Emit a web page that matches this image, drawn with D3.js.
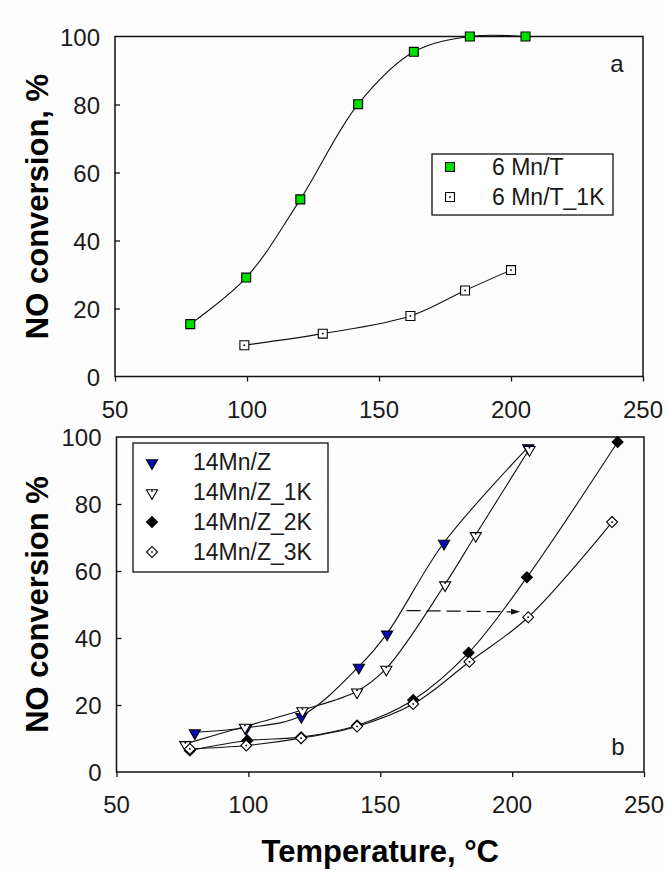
<!DOCTYPE html>
<html>
<head>
<meta charset="utf-8">
<script src="https://cdn.jsdelivr.net/npm/d3@7"></script>
<style>
  body { margin: 0; background: #ffffff; }
  text { font-family: "Liberation Sans", Arial, sans-serif; }
  .tick-label { font-size: 24px; fill: #1a1a1a; }
  .legend-text { font-size: 23px; fill: #1a1a1a; }
  .axis-title { font-size: 31px; font-weight: bold; fill: #000; }
</style>
</head>
<body>
<div id="chart"></div>
<script>
// panel a: 6 Mn/T catalysts
var aFreshT = [78.5, 99.7, 120.2, 142.1, 163.2, 184.4, 205.5];
var aFreshNO = [15.4, 29.1, 52.1, 80.1, 95.5, 100, 100];
var a1KT = [99.0, 128.7, 161.9, 182.6, 200.0];
var a1KNO = [9.2, 12.6, 17.8, 25.3, 31.3];

// panel b: 14Mn/Z catalysts
var bFreshT = [79.7, 99.1, 120.1, 141.9, 152.6, 174.2, 206.1];
var bFreshNO = [11.9, 13.2, 16.8, 31.5, 41.4, 68.5, 97.0];
var b1KT = [76.1, 98.7, 120.5, 141.2, 152.3, 174.6, 186.2, 206.6];
var b1KNO = [8.4, 13.6, 18.5, 24.1, 30.9, 56.1, 70.8, 96.5];
var b2KT = [77.8, 99.6, 120.0, 141.2, 162.5, 183.5, 205.6, 240.0];
var b2KNO = [6.4, 9.4, 10.4, 13.9, 21.5, 35.6, 58.1, 98.5];
var b3KT = [77.8, 99.2, 120.0, 141.2, 162.5, 183.8, 206.1, 237.9];
var b3KNO = [6.9, 7.9, 10.1, 13.6, 20.3, 32.9, 46.2, 74.6];

// dashed shift arrow in panel b (temperature from -> to, at conversion)
var arrowT = [160, 203];
var arrowNO = [48.2, 47.8];

var xTicks = [50, 100, 150, 200, 250];
var yTicks = [0, 20, 40, 60, 80, 100];

var svgWidth = 668;
var svgHeight = 870;

var svg = d3.select("#chart")
  .append("svg")
  .attr("width", svgWidth)
  .attr("height", svgHeight);

svg.append("rect")
  .attr("width", svgWidth)
  .attr("height", svgHeight)
  .attr("fill", "#fdfdfd");

var zip = function(xs, ys) { return xs.map((x, i) => ({ t: x, v: ys[i] })); };

// marker shapes, SigmaPlot style (open ones get a dot in the middle)
function drawMarker(g, kind, cx, cy) {
  var m = g.append("g").attr("transform", `translate(${cx},${cy})`);
  var sym;
  if (kind.indexOf("square") === 0) {
    sym = d3.symbol().type(d3.symbolSquare).size(80);
    m.append("path").attr("d", sym());
  } else if (kind.indexOf("tri") === 0) {
    sym = d3.symbol().type(d3.symbolTriangle).size(54);
    m.append("path").attr("d", sym()).attr("transform", "rotate(180) translate(0,-1)");
  } else {
    sym = d3.symbol().type(d3.symbolSquare).size(60);
    m.append("path").attr("d", sym()).attr("transform", "rotate(45)");
  }
  var fill = { square: "#00e000", squareOpen: "#fff", tri: "#0a0ab4", triOpen: "#fff", diamond: "#000", diamondOpen: "#fff" }[kind];
  m.select("path")
    .attr("fill", fill)
    .attr("stroke", "#000")
    .attr("stroke-width", 1.1);
  if (kind.indexOf("Open") > 0) {
    m.append("rect")
      .attr("x", -0.8).attr("y", kind === "triOpen" ? -1.8 : -0.8)
      .attr("width", 1.6).attr("height", 1.6)
      .attr("fill", "#000");
  }
}

function drawPanel(box, series, yTitle, letter, showXTitle) {
  var x = d3.scaleLinear().domain([50, 250]).range([box.left, box.right]);
  var y = d3.scaleLinear().domain([0, 100]).range([box.bottom, box.top]);

  var g = svg.append("g");

  // ticks: x outward, y inward
  var xAxis = d3.axisBottom(x).tickValues(xTicks).tickSize(5).tickFormat("");
  g.append("g")
    .attr("transform", `translate(0,${box.bottom})`)
    .call(xAxis)
    .call(s => s.select(".domain").remove())
    .call(s => s.selectAll("line").attr("stroke", "#111").attr("stroke-width", 1.3));

  var yAxis = d3.axisRight(y).tickValues(yTicks.slice(1, -1)).tickSize(5).tickFormat("");
  g.append("g")
    .attr("transform", `translate(${box.left},0)`)
    .call(yAxis)
    .call(s => s.select(".domain").remove())
    .call(s => s.selectAll("line").attr("stroke", "#111").attr("stroke-width", 1.3));

  // frame
  g.append("rect")
    .attr("x", box.left).attr("y", box.top)
    .attr("width", box.right - box.left).attr("height", box.bottom - box.top)
    .attr("fill", "none")
    .attr("stroke", "#111")
    .attr("stroke-width", 1.5);

  g.selectAll(".xlab")
    .data(xTicks)
    .enter()
    .append("text")
    .attr("class", "tick-label")
    .attr("x", d => x(d))
    .attr("y", box.bottom + 41)
    .attr("text-anchor", "middle")
    .text(d => d);

  g.selectAll(".ylab")
    .data(yTicks)
    .enter()
    .append("text")
    .attr("class", "tick-label")
    .attr("x", box.left - 15)
    .attr("y", d => y(d) + 9)
    .attr("text-anchor", "end")
    .text(d => d);

  var line = d3.line()
    .x(d => x(d.t))
    .y(d => y(d.v))
    .curve(d3.curveCatmullRom.alpha(0.5));

  series.forEach(function(s) {
    g.append("path")
      .attr("d", line(s.data))
      .attr("fill", "none")
      .attr("stroke", "#111")
      .attr("stroke-width", 1.1);
  });

  series.forEach(function(s) {
    s.data.forEach(d => drawMarker(g, s.marker, x(d.t), y(d.v)));
  });

  // legend
  var lg = g.append("g");
  lg.append("rect")
    .attr("x", box.legend.x).attr("y", box.legend.y)
    .attr("width", box.legend.w).attr("height", box.legend.h)
    .attr("fill", "#fff")
    .attr("stroke", "#111")
    .attr("stroke-width", 1.3);
  series.forEach(function(s, i) {
    var cy = box.legend.y + box.legend.first + i * box.legend.step;
    drawMarker(lg, s.marker, box.legend.x + box.legend.mx, cy);
    lg.append("text")
      .attr("class", "legend-text")
      .attr("x", box.legend.x + box.legend.tx)
      .attr("y", cy + 8)
      .text(s.name);
  });

  g.append("text")
    .attr("class", "tick-label")
    .attr("x", box.right - 26)
    .attr("y", box.letterY)
    .attr("text-anchor", "middle")
    .text(letter);

  g.append("text")
    .attr("class", "axis-title")
    .attr("transform", `translate(48, ${(box.top + box.bottom) / 2}) rotate(-90)`)
    .attr("text-anchor", "middle")
    .text(yTitle);

  if (showXTitle) {
    g.append("text")
      .attr("class", "axis-title")
      .attr("x", (box.left + box.right) / 2)
      .attr("y", 862)
      .attr("text-anchor", "middle")
      .text("Temperature, \u00B0C");
  }
  return { x: x, y: y, g: g };
}

drawPanel(
  { left: 115, right: 643, top: 36.5, bottom: 376.5, letterY: 72,
    legend: { x: 432, y: 154, w: 181, h: 61, first: 13, step: 30, mx: 18, tx: 60 } },
  [
    { name: "6 Mn/T", marker: "square", data: zip(aFreshT, aFreshNO) },
    { name: "6 Mn/T_1K", marker: "squareOpen", data: zip(a1KT, a1KNO) }
  ],
  "NO conversion, %", "a", false
);

var pb = drawPanel(
  { left: 116.5, right: 644, top: 437, bottom: 772, letterY: 755,
    legend: { x: 133, y: 443, w: 195, h: 129, first: 19, step: 30, mx: 19, tx: 60 } },
  [
    { name: "14Mn/Z", marker: "tri", data: zip(bFreshT, bFreshNO) },
    { name: "14Mn/Z_1K", marker: "triOpen", data: zip(b1KT, b1KNO) },
    { name: "14Mn/Z_2K", marker: "diamond", data: zip(b2KT, b2KNO) },
    { name: "14Mn/Z_3K", marker: "diamondOpen", data: zip(b3KT, b3KNO) }
  ],
  "NO conversion %", "b", true
);

// dashed arrow showing the shift after K loading
var ax0 = pb.x(arrowT[0]), ax1 = pb.x(arrowT[1]);
var ay0 = pb.y(arrowNO[0]), ay1 = pb.y(arrowNO[1]);
pb.g.append("line")
  .attr("x1", ax0).attr("y1", ay0)
  .attr("x2", ax1 - 7).attr("y2", ay1)
  .attr("stroke", "#111")
  .attr("stroke-width", 1.3)
  .attr("stroke-dasharray", "14,6");
pb.g.append("path")
  .attr("d", `M${ax1},${ay1} L${ax1 - 9},${ay1 - 3} L${ax1 - 9},${ay1 + 3} Z`)
  .attr("fill", "#111");
</script>
</body>
</html>
